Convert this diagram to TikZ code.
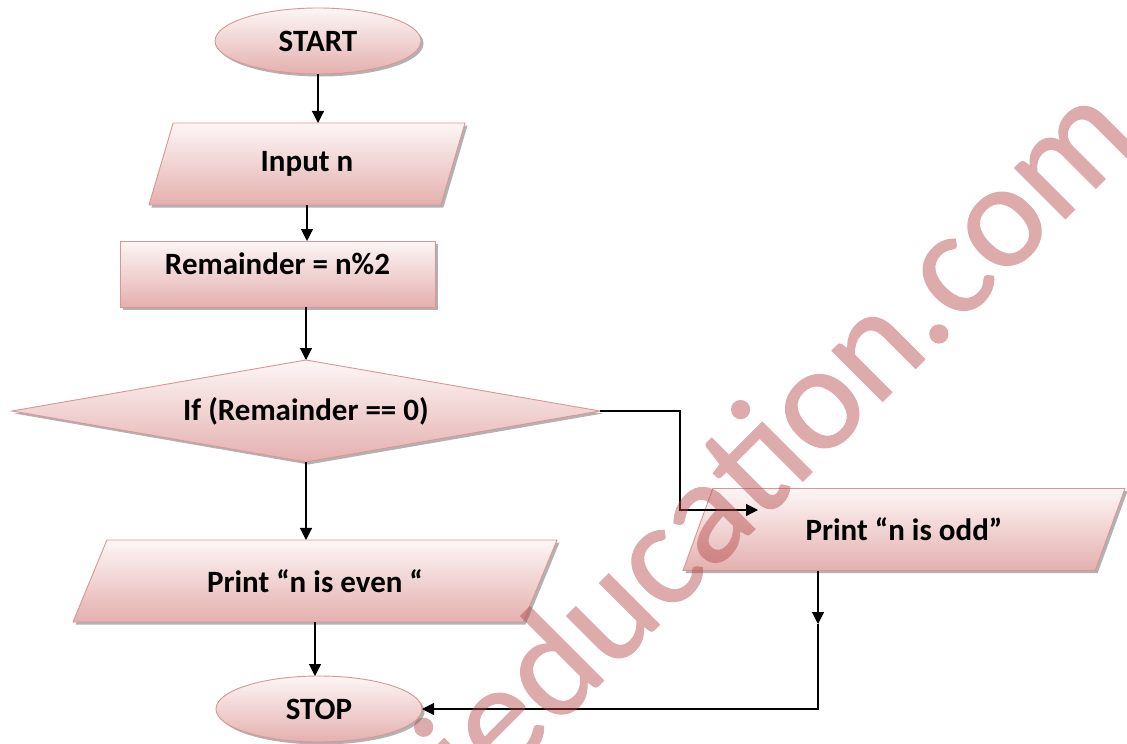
\documentclass[tikz,border=0pt]{standalone}
\usepackage{fontspec}
\setmainfont{Carlito}
\newfontfamily\wmfont[FakeBold=0.8]{Carlito}
\usetikzlibrary{shapes.geometric,shadows,arrows.meta}
\definecolor{bord}{RGB}{217,150,148}
\definecolor{topc}{RGB}{253,246,246}
\definecolor{botc}{RGB}{228,176,175}
\definecolor{wm}{RGB}{180,70,70}
\begin{document}
\begin{tikzpicture}[x=1pt,y=-1pt,
  fcbox/.style={draw=bord, line width=0.9pt, top color=topc, bottom color=botc,
    inner sep=0pt, outer sep=0pt, font=\bfseries\fontsize{31}{34}\selectfont,
    drop shadow={shadow xshift=2.5pt, shadow yshift=-2.5pt, opacity=0.3, fill=black}},
  term/.style={fcbox, ellipse, minimum width=206pt, minimum height=66pt},
  io/.style={fcbox, trapezium, trapezium stretches body, minimum height=82pt},
  proc/.style={fcbox, rectangle, minimum width=315pt, minimum height=66pt},
  dec/.style={fcbox, diamond, aspect=5.76, minimum width=588pt, minimum height=102pt},
  arr/.style={draw=black, line width=1.2pt, -{Triangle[length=12pt,width=12pt]}},
]
\fill[white] (0,0) rectangle (1127,744);
\useasboundingbox (0,0) rectangle (1127,744);

\node[term] (start) at (318,41) {START};
\node[io, trapezium left angle=46, trapezium right angle=134, minimum width=316pt] (in) at (307,164) {Input n};
\node[proc, text height=15pt, text depth=15pt] (rem) at (277.5,274) {Remainder = n\%2};
\node[dec] (if) at (306,411) {If (Remainder == 0)};
\node[io, trapezium left angle=34.3, trapezium right angle=145.7, minimum width=484pt] (even) at (315,581) {Print “n is even “};
\node[io, trapezium left angle=37.8, trapezium right angle=142.2, minimum width=442pt] (odd) at (904,529.5) {Print “n is odd”};
\node[term] (stop) at (319,709) {STOP};

\coordinate (k1) at (680,510);
\coordinate (oddin) at (758,510);
\coordinate (k2) at (818,624);
\coordinate (k3) at (818,709);

\draw[arr] (start.south) -- (start.south |- in.north);
\draw[arr] (in.south) -- (in.south |- rem.north);
\draw[arr] (if.north |- rem.south) -- (if.north);
\draw[arr] (if.south) -- (if.south |- even.north);
\draw[arr] (even.south) -- (even.south |- stop.north);
\draw[arr] (if.east) -| (k1) -- (oddin);
\draw[arr] (odd.south -| k2) -- (k2);
\draw[arr] (k2) -- (k3) -- (stop.east);

\begin{scope}[transparency group, opacity=0.45]
\clip (0,0) rectangle (1127,744);
\node[rotate=45, anchor=base west, text=wm, inner sep=0pt,
  font=\wmfont\fontsize{150}{152}\selectfont] (wmk) at (478,806) {ieducation.com};
\end{scope}
\end{tikzpicture}
\end{document}
